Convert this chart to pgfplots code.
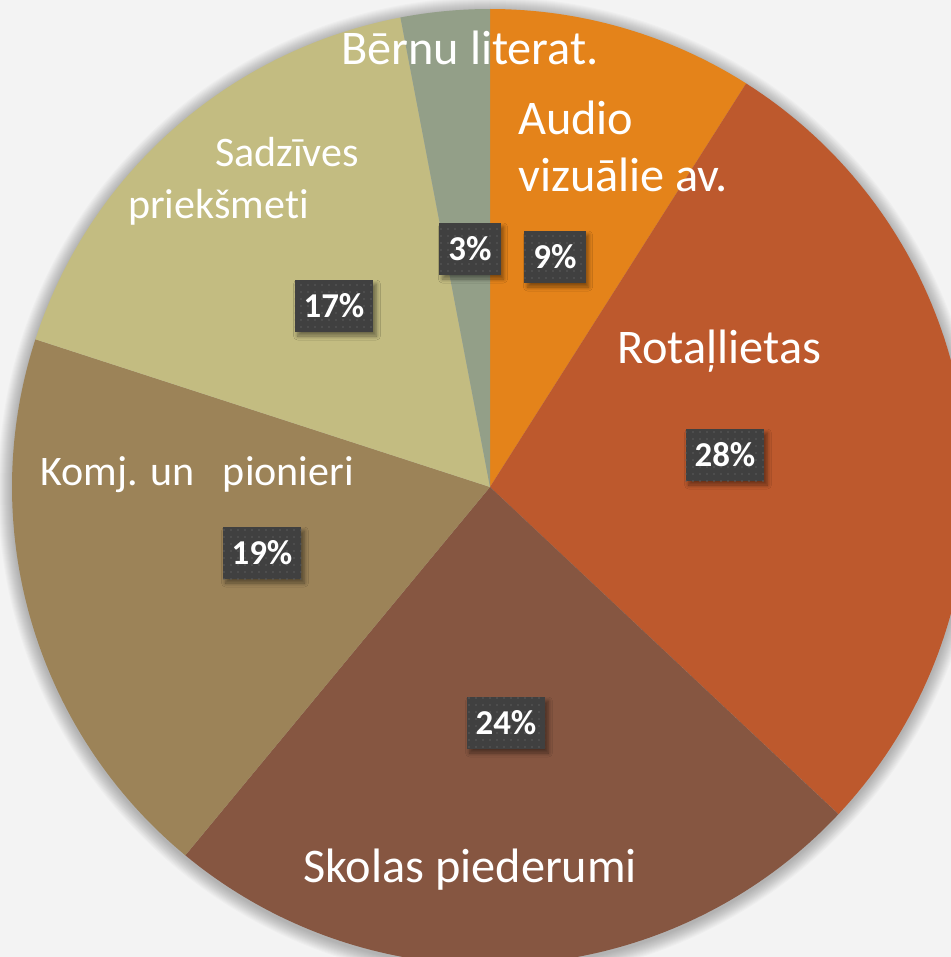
\documentclass[border=0pt]{standalone}
\usepackage{pgfplots}
\pgfplotsset{compat=1.18}
\usepackage{pgfplotstable}
\usepackage{fontspec}
\setmainfont{Carlito}[Ligatures={NoCommon}]
\usetikzlibrary{shadows,shadows.blur,patterns.meta}
\definecolor{slice0}{HTML}{E4831A}
\definecolor{slice1}{HTML}{BD592D}
\definecolor{slice2}{HTML}{865641}
\definecolor{slice3}{HTML}{9C8358}
\definecolor{slice4}{HTML}{C3BC81}
\definecolor{slice5}{HTML}{939F88}
\definecolor{bg}{HTML}{F3F3F3}
\definecolor{boxc}{HTML}{404040}
\definecolor{dotc}{HTML}{5C5C5C}
\pgfplotstableread{
value
9
28
24
19
17
3
}\piedata
\tikzset{pct/.style={fill=boxc, text=white, font=\fontsize{35}{38}\selectfont\bfseries,
  inner xsep=9bp, inner ysep=0pt, minimum height=52bp, anchor=center,
  blur shadow={shadow xshift=3bp, shadow yshift=-4bp, shadow opacity=45, shadow blur radius=4bp, shadow blur steps=8},
  postaction={pattern={Dots[distance=7bp,radius=0.8bp]}, pattern color=dotc}},
  cat/.style={text=white, font=\fontsize{48.5}{56}\selectfont, inner sep=0pt, anchor=base west},
  cats/.style={text=white, font=\fontsize{42.2}{50}\selectfont, inner sep=0pt, anchor=base west}}
\begin{document}
\begin{tikzpicture}
\begin{axis}[width=951bp, height=957bp, scale only axis,
  xmin=0, xmax=951, ymin=0, ymax=957, y dir=reverse,
  hide axis, clip=true]
\fill[bg] (0,0) rectangle (951,957);
\pgfplotsinvokeforeach{1,...,14}{
  \fill[black, opacity=0.018] (490,489) circle[radius=478+#1];
}
\def\cum{0}
\pgfplotsforeachungrouped \i in {0,...,5}{
  \pgfplotstablegetelem{\i}{value}\of\piedata
  \let\v\pgfplotsretval
  \pgfmathsetmacro\a{\cum*3.6}
  \pgfmathsetmacro\b{(\cum+\v)*3.6}
  \edef\temp{\noexpand\addplot[fill=slice\i, draw=none, domain=\a:\b, samples=90]
    ({490+478*sin(x)},{487-478*cos(x)}) -- (490,487) -- cycle;}
  \temp
  \pgfmathsetmacro\cum{\cum+\v}
}
% category labels
\node[cat, anchor=base] at (470,65) {Bērnu literat.};
\node[cat] at (518,135) {Audio};
\node[cat] at (518,192) {vizuālie av.};
\node[cat] at (617,363) {Rotaļlietas};
\node[cat] at (303,882) {Skolas piederumi};
\node[cats] at (40,485) {Komj. un~~~pionieri};
\node[cats] at (215,167) {Sadzīves};
\node[cats] at (128,218) {priekšmeti};
% percentage labels
\node[pct] at (555,257) {9\%};
\node[pct] at (470,249) {3\%};
\node[pct] at (725,455) {28\%};
\node[pct] at (506,723) {24\%};
\node[pct] at (262,553) {19\%};
\node[pct] at (334,306) {17\%};
\end{axis}
\pgfresetboundingbox
\useasboundingbox (current axis.south west) rectangle (current axis.north east);
\end{tikzpicture}
\end{document}
